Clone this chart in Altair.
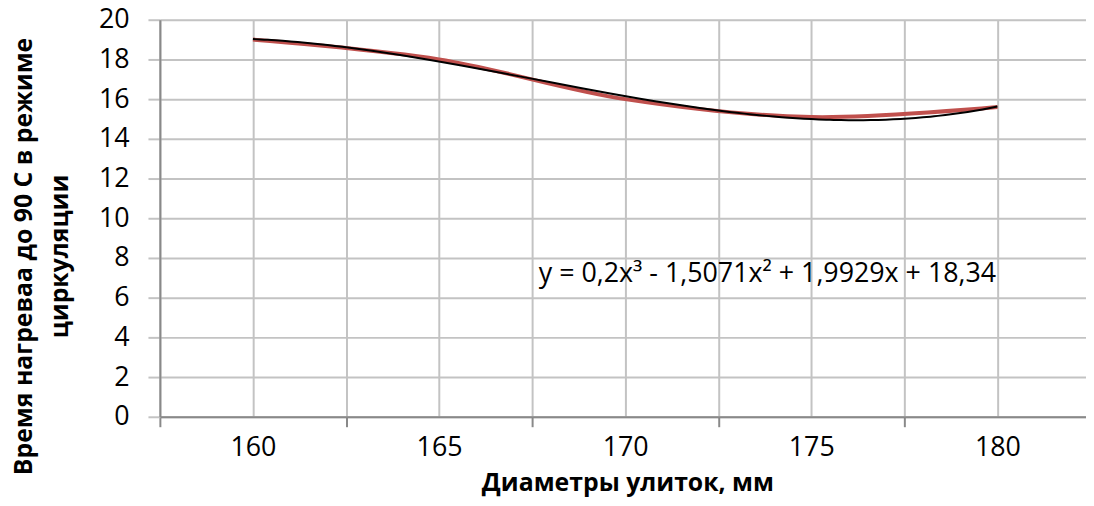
import altair as alt
import pandas as pd

# ---- data ----
diameters = [160, 165, 170, 175, 180]          # Диаметры улиток, мм
heat_times = [19.0, 18.0, 16.0, 15.1, 15.6]    # время нагрева
y_ticks = [0, 2, 4, 6, 8, 10, 12, 14, 16, 18, 20]
x_grid = [157.5, 160, 162.5, 165, 167.5, 170, 172.5, 175, 177.5, 180]
x_title = "Диаметры улиток, мм"
y_title = ["Время нагреваа до 90 С в режиме", "циркуляции"]
equation = ["y = 0,2x³ - 1,5071x² + 1,9929x + 18,34"]
eq_x = [167.68]
eq_y = [6.8]

df = pd.DataFrame({"d": diameters, "t": heat_times})
eq_df = pd.DataFrame({"d": eq_x, "t": eq_y, "label": equation})

FONT = "Open Sans"
AXIS_GRAY = "#898989"
GRID_GRAY = "#C3C3C3"

x_scale = alt.Scale(domain=[157.5, 182.38], nice=False, zero=False)
y_scale = alt.Scale(domain=[0, 20], nice=False, zero=True)

x_axis = alt.Axis(
    values=x_grid,
    labelExpr="datum.value % 5 == 0 ? datum.value : ''",
    tickColor={"condition": {"test": "datum.value % 5 == 0", "value": "transparent"},
               "value": AXIS_GRAY},
    tickSize=10, tickWidth=2,
    labelPadding=8, labelFont=FONT, labelFontSize=27, labelColor="#000000",
    labelFlush=False, labelOverlap=False,
    domainColor=AXIS_GRAY, domainWidth=2,
    grid=True, gridColor=GRID_GRAY, gridWidth=2,
    title=x_title, titleFont=FONT, titleFontSize=25, titleFontWeight="bold",
    titleColor="#000000", titleX=471, titleY=74, titleBaseline="alphabetic",
    titleAlign="center", titleAnchor="start",
)

y_axis = alt.Axis(
    values=y_ticks, tickCount=11,
    tickSize=12, tickWidth=2, tickColor=GRID_GRAY,
    labelPadding=19, labelFont=FONT, labelFontSize=27, labelColor="#000000",
    labelFlush=False, labelOverlap=False,
    domainColor=AXIS_GRAY, domainWidth=2,
    grid=True, gridColor=GRID_GRAY, gridWidth=2,
    title=y_title, titleFont=FONT, titleFontSize=25, titleFontWeight="bold",
    titleColor="#000000", titleX=-129, titleY=238, titleAngle=-90,
    titleBaseline="alphabetic", titleAlign="center", titleAnchor="start",
    titleLineHeight=36,
)

x_enc = alt.X("d:Q", scale=x_scale, axis=x_axis)
y_enc = alt.Y("t:Q", scale=y_scale, axis=y_axis)

base = alt.Chart(df)

data_line = base.mark_line(color="#C0504D", strokeWidth=4, interpolate="catmull-rom").encode(
    x=x_enc, y=y_enc,
)

trend = base.transform_regression("d", "t", method="poly", order=3).mark_line(
    color="#000000", strokeWidth=2
).encode(x=x_enc, y=y_enc)

eq_text = alt.Chart(eq_df).mark_text(
    align="left", baseline="alphabetic", font=FONT, fontSize=27, color="#000000"
).encode(x=x_enc, y=y_enc, text="label:N")

chart = alt.layer(data_line, trend, eq_text).properties(
    width=933, height=400,
    autosize=alt.AutoSizeParams(type="none"),
    padding={"left": 153, "top": 10, "right": 0, "bottom": 80},
).configure_view(stroke=None).configure(background="#ffffff")

chart.save("out.html", embed_options={"renderer": "svg", "actions": False})
